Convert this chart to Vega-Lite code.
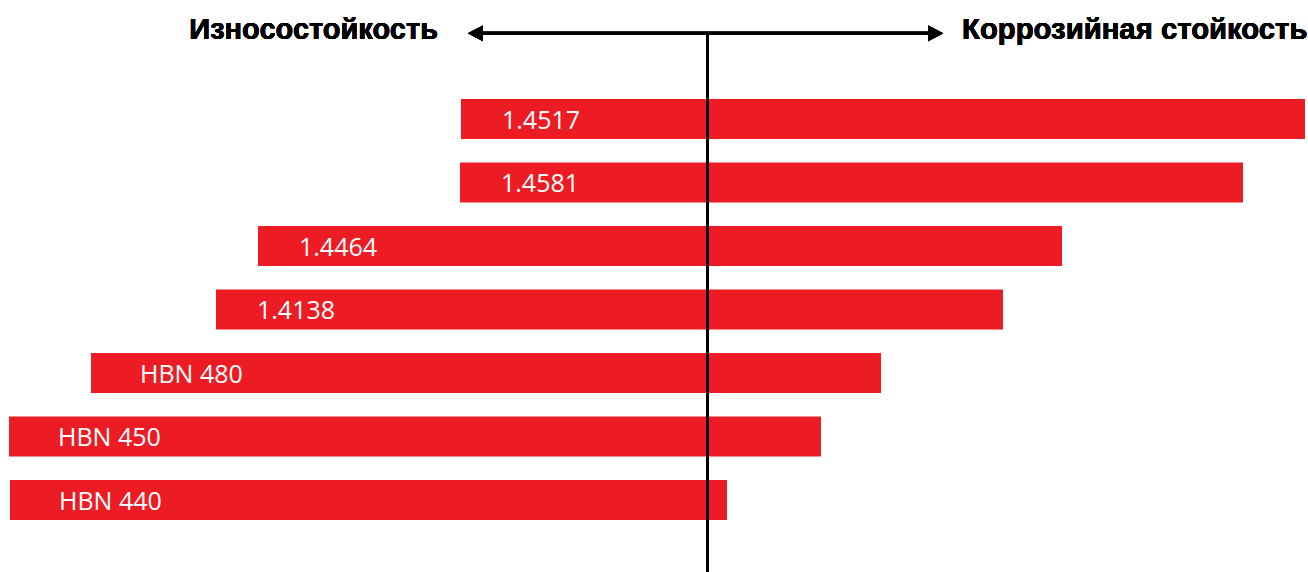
{
  "$schema": "https://vega.github.io/schema/vega-lite/v6.json",
  "width": 1308,
  "height": 572,
  "autosize": "none",
  "padding": 0,
  "background": "white",
  "config": {"view": {"stroke": null}},
  "data": {
    "values": [
      {"name": "1.4517", "kind": "grade", "rank": 1, "wear": -246.5, "corrosion": 597.5},
      {"name": "1.4581", "kind": "grade", "rank": 2, "wear": -247.5, "corrosion": 535.5},
      {"name": "1.4464", "kind": "grade", "rank": 3, "wear": -449.5, "corrosion": 354.5},
      {"name": "1.4138", "kind": "grade", "rank": 4, "wear": -491.5, "corrosion": 295.5},
      {"name": "HBN 480", "kind": "hbn", "rank": 5, "wear": -616.5, "corrosion": 173.5},
      {"name": "HBN 450", "kind": "hbn", "rank": 6, "wear": -698.5, "corrosion": 113.5},
      {"name": "HBN 440", "kind": "hbn", "rank": 7, "wear": -697.5, "corrosion": 19.5}
    ]
  },
  "layer": [
    {
      "mark": {"type": "bar", "orient": "horizontal", "size": 40, "color": "#ED1C24"},
      "encoding": {
        "x": {"field": "wear", "type": "quantitative", "scale": {"domain": [-707.5, 600.5], "nice": false, "zero": false, "padding": 0}, "axis": null},
        "x2": {"field": "corrosion"},
        "y": {"field": "rank", "type": "quantitative", "scale": {"domain": [-0.874, 8.134], "nice": false, "zero": false, "reverse": true, "padding": 0}, "axis": null}
      }
    },
    {
      "transform": [{"filter": "datum.kind === 'grade'"}],
      "mark": {"type": "text", "align": "left", "baseline": "alphabetic", "dx": 41, "dy": 10, "font": "Open Sans", "fontSize": 25, "color": "white"},
      "encoding": {
        "x": {"field": "wear", "type": "quantitative"},
        "y": {"field": "rank", "type": "quantitative"},
        "text": {"field": "name"}
      }
    },
    {
      "transform": [{"filter": "datum.kind === 'hbn'"}],
      "mark": {"type": "text", "align": "left", "baseline": "alphabetic", "dx": 49, "dy": 10, "font": "Open Sans", "fontSize": 25, "color": "white"},
      "encoding": {
        "x": {"field": "wear", "type": "quantitative"},
        "y": {"field": "rank", "type": "quantitative"},
        "text": {"field": "name"}
      }
    },
    {
      "mark": {"type": "rule", "strokeWidth": 3, "color": "black"},
      "encoding": {
        "x": {"datum": 0, "type": "quantitative"},
        "y": {"datum": -0.35, "type": "quantitative"},
        "y2": {"datum": 8.3}
      }
    },
    {
      "mark": {"type": "rule", "strokeWidth": 3, "color": "black"},
      "encoding": {
        "x": {"datum": -232, "type": "quantitative"},
        "x2": {"datum": 228},
        "y": {"datum": -0.35, "type": "quantitative"}
      }
    },
    {
      "mark": {"type": "point", "filled": true, "opacity": 1, "color": "black", "size": 225, "shape": "M 0 0 L -2 -1.05 L -2 1.05 Z"},
      "encoding": {
        "x": {"datum": 235.5, "type": "quantitative"},
        "y": {"datum": -0.35, "type": "quantitative"}
      }
    },
    {
      "mark": {"type": "point", "filled": true, "opacity": 1, "color": "black", "size": 225, "shape": "M 0 0 L 2 -1.05 L 2 1.05 Z"},
      "encoding": {
        "x": {"datum": -239.5, "type": "quantitative"},
        "y": {"datum": -0.35, "type": "quantitative"}
      }
    },
    {
      "mark": {"type": "text", "align": "right", "baseline": "alphabetic", "dy": 6, "font": "Liberation Sans", "fontWeight": "bold", "fontSize": 29, "color": "black"},
      "encoding": {
        "x": {"datum": -269.5, "type": "quantitative"},
        "y": {"datum": -0.35, "type": "quantitative"},
        "text": {"value": "Износостойкость"}
      }
    },
    {
      "mark": {"type": "text", "align": "left", "baseline": "alphabetic", "dy": 6, "font": "Liberation Sans", "fontWeight": "bold", "fontSize": 29.3, "color": "black"},
      "encoding": {
        "x": {"datum": 254.5, "type": "quantitative"},
        "y": {"datum": -0.35, "type": "quantitative"},
        "text": {"value": "Коррозийная стойкость"}
      }
    }
  ]
}
